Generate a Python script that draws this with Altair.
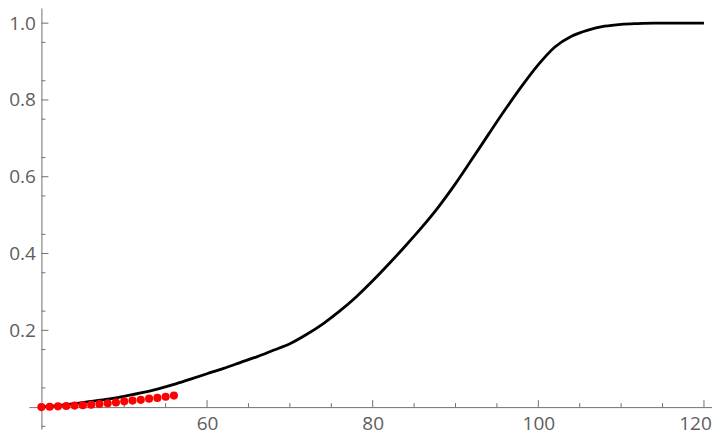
import altair as alt
import pandas as pd

# ---- data ----
curve_x = [40, 42, 44, 46, 48, 50, 52, 54, 56, 58, 60, 62, 64, 66, 68, 70,
           72, 74, 76, 78, 80, 82, 84, 86, 88, 90, 92, 94, 96, 98, 100,
           102, 104, 106, 108, 110, 112, 114, 120]
curve_y = [0.000, 0.004, 0.009, 0.015, 0.021, 0.028, 0.037, 0.047, 0.059, 0.073,
           0.087, 0.101, 0.116, 0.131, 0.148, 0.165,
           0.189, 0.217, 0.250, 0.287, 0.329, 0.374, 0.421, 0.470, 0.523, 0.582,
           0.646, 0.711, 0.775, 0.836, 0.892,
           0.938, 0.966, 0.982, 0.992, 0.997, 0.999, 1.000, 1.000]

dots_x = [40, 41, 42, 43, 44, 45, 46, 47, 48, 49, 50, 51, 52, 53, 54, 55, 56]
dots_y = [0.000, 0.001, 0.002, 0.003, 0.004, 0.005, 0.006, 0.008, 0.010,
          0.012, 0.015, 0.017, 0.019, 0.022, 0.024, 0.027, 0.030]

x_major = [60, 80, 100, 120]
x_minor = [45, 50, 55, 65, 70, 75, 85, 90, 95, 105, 110, 115]
y_major = [0.2, 0.4, 0.6, 0.8, 1.0]
y_minor = [-0.05, 0.05, 0.15, 0.25, 0.35, 0.45, 0.55, 0.65, 0.75, 0.85, 0.95]

# ---- layout / style ----
X_DOMAIN = [38.5, 120.97]
Y_DOMAIN = [-0.057, 1.0395]
X_ORIGIN = 40
W, H = 683, 421
AXIS_COLOR = "#717171"
LABEL_COLOR = "#5e5e5e"
FONT = "Open Sans"
FS = 19

xs = alt.Scale(domain=X_DOMAIN, nice=False, zero=False)
ys = alt.Scale(domain=Y_DOMAIN, nice=False, zero=False)

x_axis_offset = -H * (0 - Y_DOMAIN[0]) / (Y_DOMAIN[1] - Y_DOMAIN[0])
y_axis_offset = -W * (X_ORIGIN - X_DOMAIN[0]) / (X_DOMAIN[1] - X_DOMAIN[0])

curve_df = pd.DataFrame({"x": curve_x, "y": curve_y})
dots_df = pd.DataFrame({"x": dots_x, "y": dots_y})

x_axis = alt.Axis(values=x_major, ticks=False, grid=False, title=None,
                  offset=x_axis_offset, domainColor=AXIS_COLOR, domainWidth=1,
                  labelColor=LABEL_COLOR, labelFont=FONT, labelFontSize=FS,
                  labelPadding=7, labelFlush=False, labelOverlap=False, labelBound=False,
                  labelOffset={"condition": {"test": "datum.value == 120", "value": -9},
                               "value": 0})
y_axis = alt.Axis(values=y_major, format=".1f", ticks=False, grid=False, title=None,
                  offset=y_axis_offset, domainColor=AXIS_COLOR, domainWidth=1,
                  labelColor=LABEL_COLOR, labelFont=FONT, labelFontSize=FS,
                  labelPadding=6, labelFlush=False, labelOverlap=False, labelBound=False)

line = alt.Chart(curve_df).mark_line(color="black", strokeWidth=2.8, interpolate="monotone").encode(
    x=alt.X("x:Q", scale=xs, axis=x_axis),
    y=alt.Y("y:Q", scale=ys, axis=y_axis),
)

pts = alt.Chart(dots_df).mark_circle(size=66, color="#ff0000", opacity=1).encode(
    x=alt.X("x:Q", scale=xs, axis=x_axis),
    y=alt.Y("y:Q", scale=ys, axis=y_axis),
)


def xticks(vals, length):
    return alt.Chart(pd.DataFrame({"v": vals})).mark_rule(
        color=AXIS_COLOR, strokeWidth=1, y2Offset=-length).encode(
        x=alt.X("v:Q", scale=xs, axis=x_axis),
        y=alt.YDatum(0, scale=ys, axis=y_axis, type="quantitative"),
        y2=alt.Y2Datum(0),
    )


def yticks(vals, length):
    return alt.Chart(pd.DataFrame({"v": vals})).mark_rule(
        color=AXIS_COLOR, strokeWidth=1, x2Offset=length).encode(
        y=alt.Y("v:Q", scale=ys, axis=y_axis),
        x=alt.XDatum(X_ORIGIN, scale=xs, axis=x_axis, type="quantitative"),
        x2=alt.X2Datum(X_ORIGIN),
    )


chart = alt.layer(
    line,
    xticks(x_major, 7), xticks(x_minor, 4),
    yticks(y_major, 7), yticks(y_minor, 4),
    pts,
).properties(
    width=W, height=H,
    padding={"left": 21, "top": 0, "right": 0, "bottom": 6},
    autosize=alt.AutoSizeParams(type="none"),
).configure_view(stroke=None)

chart.save("out.html", embed_options={"renderer": "svg", "actions": False})
